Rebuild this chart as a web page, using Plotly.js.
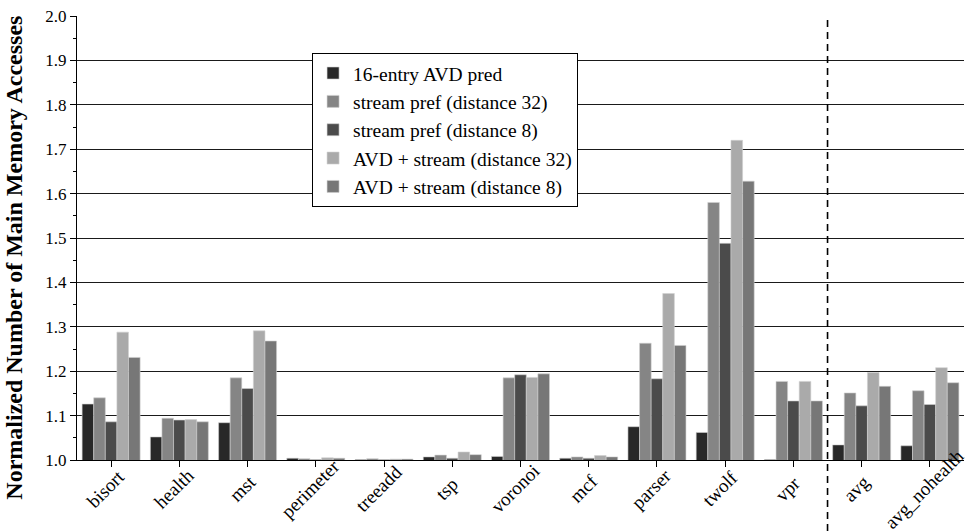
<!DOCTYPE html>
<html>
<head>
<meta charset="utf-8">
<script src="https://cdn.plot.ly/plotly-3.0.1.min.js"></script>
<style>
  html, body { margin: 0; padding: 0; background: #ffffff; }
  #chart { width: 967px; height: 531px; }
</style>
</head>
<body>
<div id="chart"></div>
<script>
// Benchmarks (last two are averages, split off by a dashed separator)
const benchmarks = ["bisort", "health", "mst", "perimeter", "treeadd", "tsp", "voronoi",
                    "mcf", "parser", "twolf", "vpr", "avg", "avg_nohealth"];

// Normalized number of main memory accesses per configuration
const avdPred16   = [1.126, 1.052, 1.084, 1.004, 1.001, 1.007, 1.008, 1.004, 1.075, 1.062, 1.001, 1.034, 1.032];
const streamD32   = [1.140, 1.094, 1.185, 1.003, 1.003, 1.011, 1.185, 1.007, 1.263, 1.580, 1.177, 1.151, 1.156];
const streamD8    = [1.086, 1.090, 1.161, 1.001, 1.001, 1.004, 1.192, 1.004, 1.183, 1.488, 1.133, 1.122, 1.125];
const avdStreamD32 = [1.288, 1.091, 1.291, 1.005, 1.002, 1.018, 1.186, 1.010, 1.375, 1.720, 1.177, 1.197, 1.208];
const avdStreamD8  = [1.231, 1.086, 1.268, 1.004, 1.002, 1.012, 1.194, 1.007, 1.258, 1.628, 1.133, 1.166, 1.174];

const seriesNames = ["16-entry AVD pred", "stream pref (distance 32)", "stream pref (distance 8)",
                     "AVD + stream (distance 32)", "AVD + stream (distance 8)"];
const seriesValues = [avdPred16, streamD32, streamD8, avdStreamD32, avdStreamD8];
const seriesColors = ["#282828", "#858585", "#4b4b4b", "#aaaaaa", "#777777"];

const yTitle = "Normalized Number of Main Memory Accesses";

const serif = "'Liberation Serif', 'Times New Roman', Times, serif";

const traces = seriesValues.map((vals, i) => ({
  type: "bar",
  name: seriesNames[i],
  x: benchmarks,
  y: vals,
  marker: { color: seriesColors[i], line: { color: "#d0d0d0", width: 0.6 } },
  hoverinfo: "x+y+name"
}));

// Category labels, slanted and centred a little below each tick
const categoryLabels = benchmarks.map(name => ({
  text: name,
  x: name, xref: "x",
  y: -0.0653, yref: "paper",
  xanchor: "center", yanchor: "middle",
  xshift: -5,
  textangle: -45,
  showarrow: false,
  font: { family: serif, size: 19, color: "#000000" }
}));

const yTitleLabel = {
  text: "<b>" + yTitle + "</b>",
  x: -0.072, xref: "paper",
  y: 0.456, yref: "paper",
  xanchor: "center", yanchor: "middle",
  textangle: -90,
  showarrow: false,
  font: { family: serif, size: 24, color: "#000000" }
};

const layout = {
  width: 967,
  height: 531,
  margin: { l: 77, r: 3, t: 16, b: 71 },
  paper_bgcolor: "#ffffff",
  plot_bgcolor: "#ffffff",
  barmode: "group",
  bargap: 0.15,
  bargroupgap: 0,
  font: { family: serif, color: "#000000", size: 17 },
  showlegend: true,
  legend: {
    x: 0.265, y: 0.917, xanchor: "left", yanchor: "top",
    bgcolor: "#ffffff", bordercolor: "#000000", borderwidth: 1,
    font: { family: serif, size: 19.5, color: "#000000" },
    itemwidth: 30,
    tracegroupgap: 0
  },
  xaxis: {
    type: "category",
    range: [-0.5, 12.5],
    automargin: false,
    showticklabels: false,
    ticks: "outside", ticklen: 6, tickcolor: "#000000", tickwidth: 1,
    showline: true, linecolor: "#000000", linewidth: 1,
    showgrid: false, zeroline: false
  },
  yaxis: {
    automargin: false,
    range: [1.0, 2.0],
    dtick: 0.1, tick0: 1.0,
    tickformat: ".1f",
    ticks: "outside", ticklen: 6, tickcolor: "#000000", tickwidth: 1,
    showline: true, linecolor: "#000000", linewidth: 1,
    showgrid: true, gridcolor: "#1a1a1a", gridwidth: 1,
    zeroline: false,
    minor: { dtick: 0.05, ticks: "outside", ticklen: 3, tickcolor: "#000000", showgrid: false },
    tickfont: { family: serif, size: 17, color: "#000000" }
  },
  annotations: categoryLabels.concat([yTitleLabel]),
  shapes: [{
    type: "line", xref: "x", yref: "paper",
    x0: 10.5, x1: 10.5, y0: -0.16, y1: 1,
    line: { color: "#000000", width: 1.6, dash: "7px,5px" }
  }]
};

Plotly.newPlot("chart", traces, layout, { displayModeBar: false, staticPlot: true });
</script>
</body>
</html>
